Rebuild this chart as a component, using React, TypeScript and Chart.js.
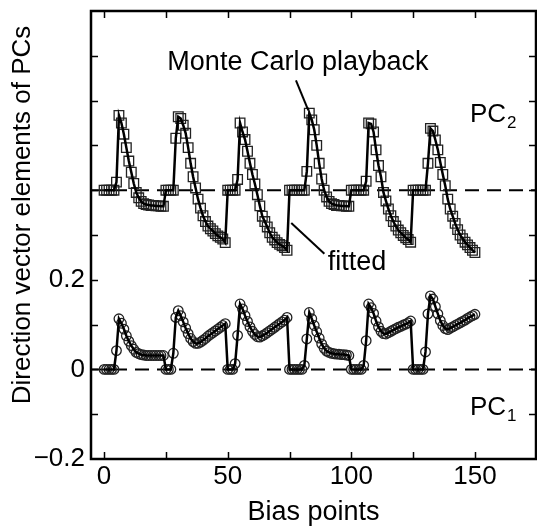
import React, { useEffect, useRef } from "react";
import { Chart, registerables } from "chart.js";

Chart.register(...registerables);

// ---- Data ----
// Bias-point index runs 0..150; PC2 is plotted with its 0.4 offset.
const PC2_VALUES = [
  // cycle 1 (0-24)
  0.4, 0.4, 0.4, 0.4, 0.4, 0.418, 0.567, 0.55, 0.525, 0.495, 0.465, 0.44, 0.415, 0.395, 0.383, 0.375, 0.37, 0.368, 0.367, 0.366, 0.366, 0.365, 0.365, 0.364, 0.364,
  // cycle 2 (25-49)
  0.4, 0.4, 0.4, 0.4, 0.516, 0.564, 0.56, 0.545, 0.527, 0.495, 0.46, 0.43, 0.405, 0.38, 0.36, 0.343, 0.33, 0.32, 0.314, 0.309, 0.303, 0.298, 0.295, 0.291, 0.283,
  // cycle 3 (50-74)
  0.4, 0.4, 0.4, 0.4, 0.424, 0.55, 0.53, 0.513, 0.487, 0.46, 0.435, 0.414, 0.39, 0.365, 0.342, 0.33, 0.318, 0.305, 0.295, 0.289, 0.283, 0.279, 0.276, 0.272, 0.266,
  // cycle 4 (75-99)
  0.4, 0.4, 0.4, 0.4, 0.4, 0.4, 0.4, 0.442, 0.572, 0.557, 0.535, 0.5, 0.46, 0.425, 0.4, 0.385, 0.375, 0.37, 0.368, 0.366, 0.366, 0.365, 0.365, 0.364, 0.364,
  // cycle 5 (100-124)
  0.4, 0.4, 0.4, 0.4, 0.4, 0.4, 0.42, 0.55, 0.548, 0.53, 0.49, 0.455, 0.43, 0.395, 0.376, 0.358, 0.343, 0.33, 0.32, 0.311, 0.305, 0.299, 0.294, 0.29, 0.284,
  // cycle 6 (125-150)
  0.4, 0.4, 0.4, 0.4, 0.4, 0.4, 0.46, 0.538, 0.532, 0.512, 0.49, 0.462, 0.435, 0.41, 0.38, 0.358, 0.342, 0.326, 0.312, 0.3, 0.292, 0.284, 0.278, 0.272, 0.266, 0.261,
];

const PC1_VALUES = [
  // cycle 1
  0, 0, 0, 0, 0, 0.042, 0.113, 0.103, 0.09, 0.075, 0.063, 0.053, 0.045, 0.038, 0.035, 0.033, 0.032, 0.031, 0.031, 0.031, 0.031, 0.031, 0.031, 0.031, 0.031,
  // cycle 2
  0, 0, 0, 0.036, 0.116, 0.131, 0.12, 0.106, 0.092, 0.08, 0.069, 0.062, 0.058, 0.058, 0.061, 0.065, 0.069, 0.074, 0.078, 0.082, 0.086, 0.09, 0.094, 0.098, 0.102,
  // cycle 3
  0, 0, 0, 0.013, 0.076, 0.146, 0.135, 0.12, 0.107, 0.095, 0.085, 0.078, 0.073, 0.072, 0.075, 0.078, 0.082, 0.086, 0.09, 0.094, 0.098, 0.102, 0.106, 0.11, 0.116,
  // cycle 4
  0, 0, 0, 0, 0, 0, 0.009, 0.068, 0.127, 0.113, 0.098, 0.084, 0.07, 0.057, 0.047, 0.041, 0.038, 0.036, 0.035, 0.034, 0.034, 0.033, 0.033, 0.032, 0.031,
  // cycle 5
  0, 0, 0, 0, 0, 0.009, 0.064, 0.146, 0.138, 0.125, 0.108, 0.095, 0.085, 0.08, 0.079, 0.082, 0.085, 0.088, 0.091, 0.094, 0.096, 0.099, 0.101, 0.104, 0.108,
  // cycle 6
  0, 0, 0, 0, 0, 0.039, 0.124, 0.164, 0.157, 0.14, 0.124, 0.109, 0.098, 0.091, 0.089, 0.092, 0.095, 0.098, 0.101, 0.104, 0.107, 0.11, 0.114, 0.117, 0.12, 0.123,
];

const PC2_BASELINE = 0.4;
const PC1_BASELINE = 0;

const X_MIN = -5.3;
const X_MAX = 174.7;
const Y_MIN = -0.2;
const Y_MAX = 0.8;
const X_TICK_LABELS = [0, 50, 100, 150];
const Y_TICK_LABELS = [-0.2, 0, 0.2];
const X_TICK_MARKS = [0, 25, 50, 75, 100, 125, 150];
const Y_TICK_MARKS = [-0.1, 0, 0.1, 0.2, 0.3, 0.4, 0.5, 0.6, 0.7];

const FONT_FAMILY = "'Liberation Sans', Arial, Helvetica, sans-serif";
const FONT_SIZE = 26;
const LABEL_FONT_SIZE = 27;

const toPoints = (vals: number[]) => vals.map((v, i) => ({ x: i, y: v }));

const overlayPlugin = {
  id: "overlay",
  afterDraw(chart: any) {
    const { ctx, chartArea, scales } = chart;
    const xs = scales.x;
    const ys = scales.y;
    const { left, right, top, bottom } = chartArea;
    ctx.save();
    ctx.strokeStyle = "#000";
    ctx.fillStyle = "#000";
    // inward tick marks
    ctx.lineWidth = 1.5;
    const tl = 7;
    X_TICK_MARKS.forEach((v) => {
      const px = Math.round(xs.getPixelForValue(v)) + 0.5;
      ctx.beginPath();
      ctx.moveTo(px, bottom);
      ctx.lineTo(px, bottom - tl);
      ctx.moveTo(px, top);
      ctx.lineTo(px, top + tl);
      ctx.stroke();
    });
    Y_TICK_MARKS.forEach((v) => {
      const py = Math.round(ys.getPixelForValue(v)) + 0.5;
      ctx.beginPath();
      ctx.moveTo(left, py);
      ctx.lineTo(left + tl, py);
      ctx.moveTo(right, py);
      ctx.lineTo(right - tl, py);
      ctx.stroke();
    });
    // frame
    ctx.lineWidth = 2.5;
    ctx.strokeRect(left, top, right - left, bottom - top);

    // pointer lines (data coordinates)
    ctx.lineWidth = 2;
    const seg = (x1: number, y1: number, x2: number, y2: number) => {
      ctx.beginPath();
      ctx.moveTo(xs.getPixelForValue(x1), ys.getPixelForValue(y1));
      ctx.lineTo(xs.getPixelForValue(x2), ys.getPixelForValue(y2));
      ctx.stroke();
    };
    seg(77.6, 0.645, 82.6, 0.578);
    seg(75.7, 0.327, 89.1, 0.258);

    // annotation texts
    ctx.font = `${LABEL_FONT_SIZE}px ${FONT_FAMILY}`;
    ctx.textBaseline = "alphabetic";
    ctx.textAlign = "center";
    ctx.fillText("Monte Carlo playback", xs.getPixelForValue(78.4), ys.getPixelForValue(0.668));
    ctx.textAlign = "left";
    ctx.fillText("fitted", xs.getPixelForValue(90.5), ys.getPixelForValue(0.222));

    const pcLabel = (sub: string, x: number, y: number) => {
      const px = xs.getPixelForValue(x);
      const py = ys.getPixelForValue(y);
      ctx.font = `${FONT_SIZE}px ${FONT_FAMILY}`;
      ctx.fillText("PC", px, py);
      const w = ctx.measureText("PC").width;
      ctx.font = `17px ${FONT_FAMILY}`;
      ctx.fillText(sub, px + w + 1, py + 6);
    };
    pcLabel("2", 148.0, 0.553);
    pcLabel("1", 148.0, -0.102);

    // y-axis title
    ctx.save();
    ctx.font = `${FONT_SIZE}px ${FONT_FAMILY}`;
    ctx.textAlign = "center";
    ctx.textBaseline = "middle";
    ctx.translate(23, 215);
    ctx.rotate(-Math.PI / 2);
    ctx.fillText("Direction vector elements of PCs", 0, 0);
    ctx.restore();
    ctx.restore();
  },
};

export default function App() {
  const ref = useRef<HTMLCanvasElement | null>(null);
  useEffect(() => {
    if (!ref.current) return;
    const font = { family: FONT_FAMILY, size: FONT_SIZE };
    const chart = new Chart(ref.current, {
      type: "scatter",
      data: {
        datasets: [
          { label: "fitted PC2", data: toPoints(PC2_VALUES), showLine: true, borderColor: "#000", borderWidth: 2.5, pointRadius: 0, order: 0 },
          { label: "fitted PC1", data: toPoints(PC1_VALUES), showLine: true, borderColor: "#000", borderWidth: 2.5, pointRadius: 0, order: 0 },
          {
            label: "Monte Carlo playback PC2",
            data: toPoints(PC2_VALUES),
            showLine: false,
            pointStyle: "rect",
            pointRadius: 6.8,
            pointBorderWidth: 1.3,
            pointBorderColor: "#222",
            pointBackgroundColor: "rgba(255,255,255,0)",
            order: 1,
          },
          {
            label: "Monte Carlo playback PC1",
            data: toPoints(PC1_VALUES),
            showLine: false,
            pointStyle: "circle",
            pointRadius: 4.8,
            pointBorderWidth: 1.3,
            pointBorderColor: "#222",
            pointBackgroundColor: "rgba(255,255,255,0)",
            order: 1,
          },
          {
            label: "PC2 baseline",
            data: [{ x: X_MIN, y: PC2_BASELINE }, { x: X_MAX, y: PC2_BASELINE }],
            showLine: true,
            borderColor: "#000",
            borderWidth: 2,
            borderDash: [14, 8],
            pointRadius: 0,
            order: 2,
          },
          {
            label: "PC1 baseline",
            data: [{ x: X_MIN, y: PC1_BASELINE }, { x: X_MAX, y: PC1_BASELINE }],
            showLine: true,
            borderColor: "#000",
            borderWidth: 2,
            borderDash: [14, 8],
            pointRadius: 0,
            order: 2,
          },
        ],
      },
      options: {
        animation: false,
        responsive: false,
        devicePixelRatio: 1,
        layout: { autoPadding: false, padding: { top: 11, right: 1, left: 0, bottom: 0 } },
        plugins: { legend: { display: false }, tooltip: { enabled: false } },
        scales: {
          x: {
            type: "linear",
            min: X_MIN,
            max: X_MAX,
            grid: { display: false, drawTicks: false },
            border: { display: false },
            afterBuildTicks: (s: any) => {
              s.ticks = X_TICK_LABELS.map((v) => ({ value: v }));
            },
            afterFit: (s: any) => {
              s.height = 67;
              s.paddingLeft = 0;
              s.paddingRight = 0;
            },
            ticks: { font, color: "#000", padding: 2, maxRotation: 0, autoSkip: false },
            title: {
              display: true,
              text: "Bias points",
              font: { family: FONT_FAMILY, size: LABEL_FONT_SIZE, lineHeight: 1 },
              color: "#000",
              padding: { top: 0, bottom: 0 },
            },
          },
          y: {
            type: "linear",
            min: Y_MIN,
            max: Y_MAX,
            grid: { display: false, drawTicks: false },
            border: { display: false },
            afterBuildTicks: (s: any) => {
              s.ticks = Y_TICK_LABELS.map((v) => ({ value: v }));
            },
            afterFit: (s: any) => {
              s.width = 91;
              s.paddingTop = 0;
              s.paddingBottom = 0;
            },
            ticks: {
              font,
              color: "#000",
              padding: 6,
              autoSkip: false,
              callback: (v: any) => (v < 0 ? "\u2212" + Math.abs(v) : String(v)),
            },
            title: { display: false },
          },
        },
      },
      plugins: [overlayPlugin],
    });
    return () => chart.destroy();
  }, []);
  return (
    <div style={{ position: "fixed", left: 0, top: 0, width: 537, height: 526, background: "#fff" }}>
      <canvas ref={ref} width={537} height={526} style={{ display: "block", width: 537, height: 526 }} />
    </div>
  );
}
